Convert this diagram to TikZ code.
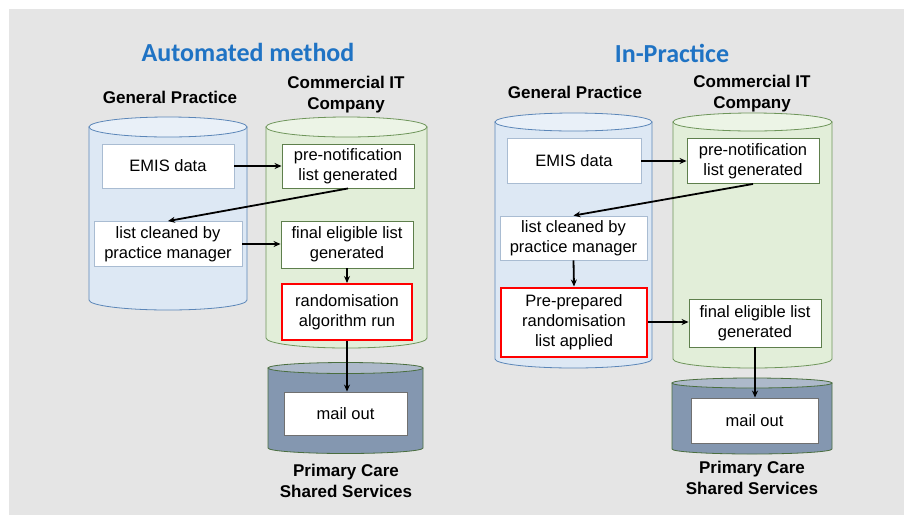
\documentclass[tikz,border=0pt]{standalone}
\usepackage{fontspec}
\setmainfont{Liberation Sans}
\newfontfamily\titlefont{Carlito}
\usetikzlibrary{arrows.meta}
\definecolor{bg}{HTML}{E5E5E5}
\definecolor{gpbody}{HTML}{DDE8F4}
\definecolor{gptop}{HTML}{E9F0F8}
\definecolor{gpline}{HTML}{5B86B8}
\definecolor{itbody}{HTML}{E2EED9}
\definecolor{ittop}{HTML}{ECF4E6}
\definecolor{itline}{HTML}{6E955A}
\definecolor{pcbody}{HTML}{8497B0}
\definecolor{pctop}{HTML}{ADB9CA}
\definecolor{pcline}{HTML}{4A6E3F}
\definecolor{titleblue}{HTML}{1F73C4}
\definecolor{gpbox}{HTML}{A9BCD2}
\definecolor{itbox}{HTML}{5E7F4C}
\definecolor{mailbox}{HTML}{707070}
\newcommand\drumshape[8]{%
  \pgfmathsetmacro\drumrx{(#2-#1)/2}%
  \pgfmathsetmacro\drumcx{(#1+#2)/2}%
  \filldraw[fill=#6,draw=#8,line width=0.8pt] (#1,#3) -- (#1,#4)
    arc[start angle=180,end angle=360,x radius=\drumrx pt,y radius=#5pt] -- (#2,#3) -- cycle;
  \filldraw[fill=#7,draw=#8,line width=0.8pt] (\drumcx,#3) ellipse[x radius=\drumrx pt,y radius=#5pt];
}
\tikzset{
  box/.style={rectangle,fill=white,line width=0.9pt,align=center,inner sep=0pt,
    font=\fontsize{16.5}{20}\selectfont},
  gpb/.style={box,draw=gpbox},
  itb/.style={box,draw=itbox},
  redb/.style={box,draw=red,line width=2pt},
  mailb/.style={box,draw=mailbox},
  lab/.style={align=center,font=\fontsize{17}{21}\selectfont\bfseries},
  ttl/.style={text=titleblue,font=\titlefont\fontsize{26}{30}\selectfont\bfseries},
  arr/.style={-{Stealth[length=7pt,width=6pt]},line width=1.8pt,black},
}
\begin{document}
\begin{tikzpicture}[x=1pt,y=-1pt]
\useasboundingbox (0,0) rectangle (904,515);
\fill[bg] (9,9) rectangle (904,515);

% titles and labels
\node[ttl] (t1) at (248,52) {Automated method};
\node[ttl] (t2) at (672,53) {In-Practice};
\node[lab] (gpL) at (170,97) {General Practice};
\node[lab] (itL) at (346,94.5) {Commercial IT\\Company};
\node[lab] (pcL) at (346,481) {Primary Care\\Shared Services};
\node[lab] (gpR) at (575,92) {General Practice};
\node[lab] (itR) at (752,94) {Commercial IT\\Company};
\node[lab] (pcR) at (752,478) {Primary Care\\Shared Services};

% cylinders left
\drumshape{89}{247}{127}{300}{10}{gpbody}{gptop}{gpline}
\drumshape{266}{427}{127}{338}{10}{itbody}{ittop}{itline}
\drumshape{268}{423}{368}{448}{5.5}{pcbody}{pctop}{pcline}
% cylinders right
\drumshape{495}{652}{122}{359}{9}{gpbody}{gptop}{gpline}
\drumshape{673}{832}{122}{359}{9}{itbody}{ittop}{itline}
\drumshape{672}{832}{383}{449}{5}{pcbody}{pctop}{pcline}

% boxes left
\node[gpb,minimum width=132pt,minimum height=44pt] (emisL) at (168,166) {EMIS data};
\node[itb,minimum width=132pt,minimum height=44pt] (preL) at (348,166) {pre-notification\\list generated};
\node[gpb,minimum width=148pt,minimum height=45pt] (cleanL) at (168,244) {list cleaned by\\practice manager};
\node[itb,minimum width=132pt,minimum height=47pt] (finalL) at (347,244.5) {final eligible list\\generated};
\node[redb,minimum width=130pt,minimum height=56pt] (randL) at (347,312) {randomisation\\algorithm run};
\node[mailb,minimum width=123pt,minimum height=43pt] (mailL) at (345.5,413.5) {mail out};

% boxes right
\node[gpb,minimum width=134pt,minimum height=45pt] (emisR) at (574,161) {EMIS data};
\node[itb,minimum width=132pt,minimum height=45pt] (preR) at (753,161) {pre-notification\\list generated};
\node[gpb,minimum width=147pt,minimum height=44pt] (cleanR) at (573.5,238) {list cleaned by\\practice manager};
\node[redb,minimum width=146pt,minimum height=69pt] (prepR) at (574,322) {Pre-prepared\\randomisation\\list applied};
\node[itb,minimum width=132pt,minimum height=48pt] (finalR) at (755,323) {final eligible list\\generated};
\node[mailb,minimum width=127pt,minimum height=45pt] (mailR) at (754.5,420.5) {mail out};

% connectors left
\draw[arr] (emisL.east) -- (preL.west);
\draw[arr] (preL.south) -- (cleanL.north);
\draw[arr] (cleanL.east) -- (cleanL.east -| finalL.west);
\draw[arr] (finalL.south) -- (randL.north);
\draw[arr] (randL.south) -- (mailL.north -| randL.south);

% connectors right
\draw[arr] (emisR.east) -- (preR.west);
\draw[arr] (preR.south) -- (cleanR.north);
\draw[arr] (cleanR.south) -- (prepR.north);
\draw[arr] (prepR.east) -- (prepR.east -| finalR.west);
\draw[arr] (finalR.south) -- (mailR.north -| finalR.south);
\end{tikzpicture}
\end{document}
